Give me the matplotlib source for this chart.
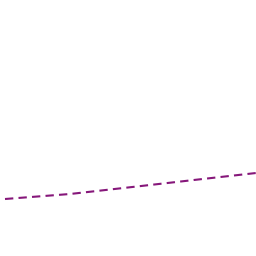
import matplotlib
matplotlib.use('Agg')
import matplotlib.pyplot as plt

# values
x = [0, 1, 2, 3, 4]
values = [57, 62, 69.3, 76.7, 84]

fig = plt.figure(figsize=(2.56, 2.56), dpi=100)
ax = fig.add_axes([0, 0, 1, 1])
ax.plot(x, values, color='#86177a', linewidth=1.5, linestyle=(0, (4, 2.5)))
ax.set_xlim(-5 / 65, 251 / 65)
ax.set_ylim(0, 256)
ax.axis('off')

fig.savefig('out.png', dpi=100)
